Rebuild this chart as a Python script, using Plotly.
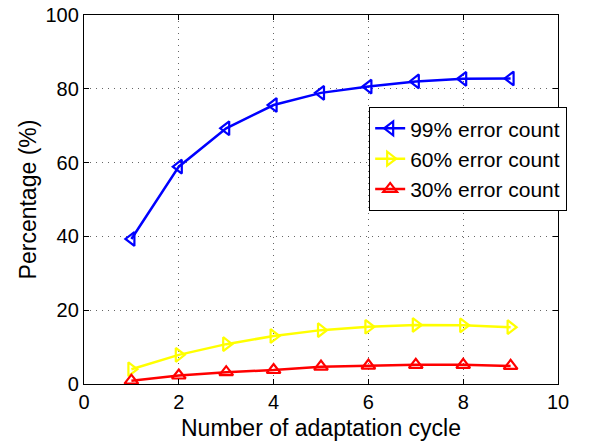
import plotly.graph_objects as go

cycles = [1, 2, 3, 4, 5, 6, 7, 8, 9]
err99 = [39.3, 58.9, 69.3, 75.6, 78.9, 80.6, 82.0, 82.7, 82.8]
err60 = [4.0, 7.9, 10.8, 13.0, 14.6, 15.5, 16.0, 15.9, 15.4]
err30 = [0.9, 2.3, 3.2, 3.8, 4.7, 5.0, 5.2, 5.2, 4.9]

x_ticks = [0, 2, 4, 6, 8, 10]
y_ticks = [0, 20, 40, 60, 80, 100]

series = [
    ("99% error count", err99, "#0000FF", "triangle-left-open"),
    ("60% error count", err60, "#FFFF00", "triangle-right-open"),
    ("30% error count", err30, "#FF0000", "triangle-up-open"),
]

fig = go.Figure()
for name, vals, color, symbol in series:
    fig.add_trace(go.Scatter(
        x=cycles, y=vals, name=name, mode="lines+markers",
        line=dict(color=color, width=2.5),
        marker=dict(symbol=symbol, size=12, color=color,
                    line=dict(color=color, width=2.2)),
    ))

font = "Liberation Sans, Arial, Helvetica, sans-serif"
axis_common = dict(
    showline=True, linecolor="black", linewidth=1.3, mirror="ticks",
    ticks="inside", ticklen=5, tickcolor="black",
    showgrid=True, gridcolor="#666666", griddash="1px,5px", gridwidth=1,
    zeroline=False, automargin=False,
    tickfont=dict(size=20, color="black", family=font),
)
fig.update_xaxes(range=[0, 10], tickvals=x_ticks,
                 title=dict(text="Number of adaptation cycle",
                            font=dict(size=23, color="black", family=font)),
                 **axis_common)
fig.update_yaxes(range=[0, 100], tickvals=y_ticks,
                 title=dict(text="Percentage (%)", standoff=2,
                            font=dict(size=23, color="black", family=font)),
                 **axis_common)

fig.update_layout(
    width=589, height=441,
    margin=dict(l=84, r=31, t=15, b=57),
    paper_bgcolor="white", plot_bgcolor="white",
    font=dict(family=font, color="black"),
    legend=dict(x=0.601, y=0.751, xanchor="left", yanchor="top",
                bgcolor="white", bordercolor="black", borderwidth=1.3,
                font=dict(size=21, color="black", family=font),
                tracegroupgap=0),
)

fig.write_html("out.html")
